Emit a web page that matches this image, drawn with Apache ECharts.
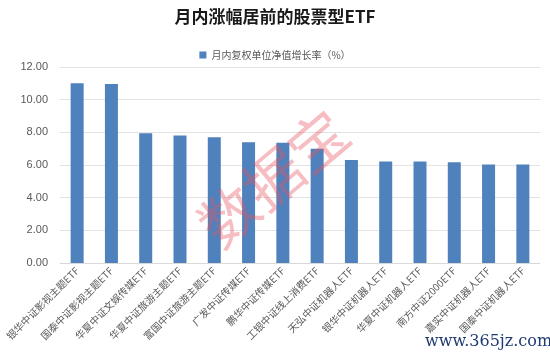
<!DOCTYPE html>
<html><head><meta charset="utf-8">
<script src="https://cdn.jsdelivr.net/npm/echarts@6/dist/echarts.min.js"></script>
<style>html,body{margin:0;padding:0;background:#fff}#c{width:550px;height:357px}</style>
</head><body><div id="c"></div>
<script>
const categories = ['银华中证影视主题ETF','国泰中证影视主题ETF','华夏中证文娱传媒ETF','华夏中证旅游主题ETF','富国中证旅游主题ETF','广发中证传媒ETF','鹏华中证传媒ETF','工银中证线上消费ETF','天弘中证机器人ETF','银华中证机器人ETF','华夏中证机器人ETF','南方中证2000ETF','嘉实中证机器人ETF','国泰中证机器人ETF'];
const values = [11.00, 10.96, 7.94, 7.80, 7.70, 7.40, 7.36, 7.00, 6.31, 6.22, 6.21, 6.17, 6.03, 6.03];
const seriesName = '月内复权单位净值增长率（%）';
const yTicks = { min: 0, max: 12, interval: 2 };

const chart = echarts.init(document.getElementById('c'));
chart.setOption({
  animation: false,
  title: {
    text: '月内涨幅居前的股票型ETF', left: 'center', top: 3,
    textStyle: { fontFamily: 'Noto Sans CJK SC', fontWeight: 'bold', fontSize: 17, color: '#1a1a1a' }
  },
  legend: {
    top: 45, left: 'center', itemWidth: 7, itemHeight: 7, itemGap: 4,
    icon: 'rect',
    textStyle: { fontFamily: 'Noto Sans CJK SC', fontSize: 10, color: '#595959' },
    data: [seriesName]
  },
  grid: { left: 60, right: 10, top: 67, bottom: 94, containLabel: false },
  xAxis: {
    type: 'category', data: categories,
    axisLine: { lineStyle: { color: '#d9d9d9' } },
    axisTick: { show: false },
    axisLabel: { rotate: 45, interval: 0, fontSize: 10, color: '#595959', fontFamily: 'Noto Sans CJK SC', margin: 6 }
  },
  yAxis: {
    type: 'value', min: yTicks.min, max: yTicks.max, interval: yTicks.interval,
    axisLine: { show: false }, axisTick: { show: false },
    axisLabel: { formatter: v => v.toFixed(2), fontSize: 11, color: '#595959', margin: 12, fontFamily: 'Liberation Sans' },
    splitLine: { lineStyle: { color: '#e3e3e3' } }
  },
  series: [{
    name: seriesName, type: 'bar', data: values, barWidth: 13,
    itemStyle: { color: '#4f81bd' }
  }],
  graphic: [
    { type: 'text', left: 188, top: 100, rotation: Math.PI * 40 / 180, z: 100,
      style: { text: '数据宝', fontSize: 58, fontFamily: 'Noto Sans CJK SC', fill: 'rgba(232,85,95,0.38)' } },
    { type: 'text', left: 425, top: 334, z: 100,
      style: { text: 'www.365jz.com', fontSize: 16, fontFamily: 'DejaVu Serif', fill: '#1f3b73' } }
  ]
});
</script></body></html>
